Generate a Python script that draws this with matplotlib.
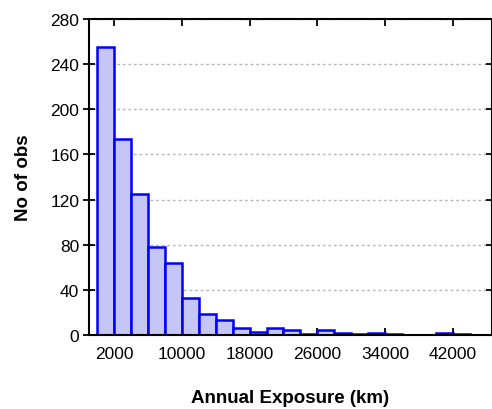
import matplotlib.pyplot as plt
import numpy as np

plt.rcParams["font.family"] = ["Liberation Sans", "DejaVu Sans"]

# histogram bins (left edges, km) and counts
bin_width = 2000
bin_lefts = np.arange(0, 44000, bin_width)
counts = [255, 174, 125, 78, 64, 33, 19, 13, 6, 3, 6, 4, 1, 4, 2, 1, 2, 1, 0, 0, 2, 1]
xticks = [2000, 10000, 18000, 26000, 34000, 42000]
yticks = [0, 40, 80, 120, 160, 200, 240, 280]

fig = plt.figure(figsize=(4.92, 4.10), dpi=100)
ax = fig.add_axes([89 / 492, 74 / 410, 402.5 / 492, 316 / 410])

lefts = [l for l, c in zip(bin_lefts, counts) if c > 0]
heights = [c for c in counts if c > 0]
ax.bar(lefts, heights, width=bin_width, align="edge",
       color="#c6c6f6", edgecolor="#0000ff", linewidth=1.8, zorder=3)

ax.set_xlim(-1000, 46600)
ax.set_ylim(0, 280)
ax.set_xticks(xticks)
ax.set_yticks(yticks)
ax.set_xticklabels([str(t) for t in xticks], fontsize=12.5)
ax.set_yticklabels([str(t) for t in yticks], fontsize=12.5)

ax.yaxis.grid(True, color="#b8b8b8", linestyle=(0, (2, 2)), linewidth=1)
ax.xaxis.grid(False)

ax.tick_params(axis="y", direction="inout", length=8, width=1.3, pad=3,
               right=True)
ax.tick_params(axis="x", direction="in", length=5, width=1.3, pad=8, top=True)
for s in ax.spines.values():
    s.set_linewidth(1.5)
    s.set_zorder(4)

ax.set_xlabel("Annual Exposure (km)", fontsize=13.5, fontweight="bold", labelpad=20)
ax.set_ylabel("No of obs", fontsize=13.5, fontweight="bold", labelpad=13)

plt.savefig("out.png", dpi=100)
